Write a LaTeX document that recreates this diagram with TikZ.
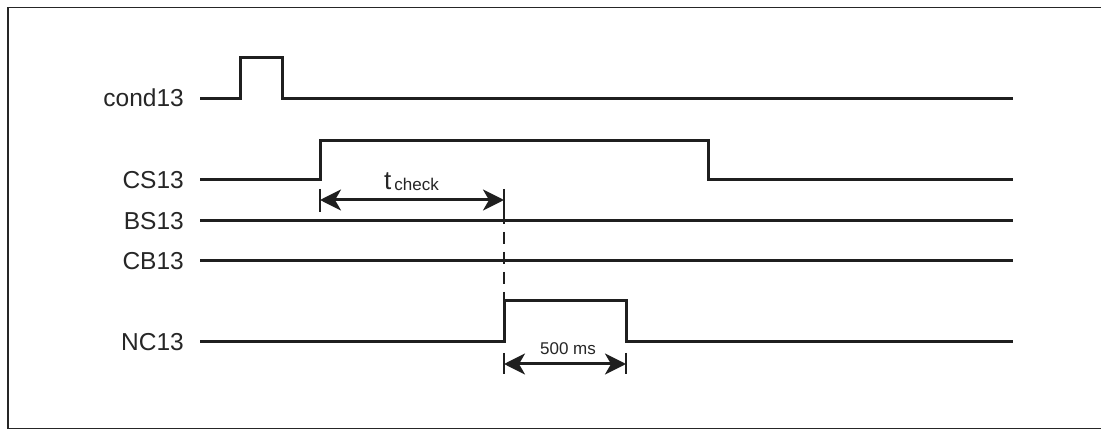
\documentclass[tikz,border=0pt]{standalone}
\usepackage{fontspec}
\setmainfont{Liberation Sans}
\usetikzlibrary{arrows.meta}
\begin{document}
\begin{tikzpicture}[x=1pt,y=-1pt,
  sig/.style={line width=3pt, line join=miter, draw=black!88},
  lbl/.style={anchor=base east, inner sep=0pt, font=\fontsize{24.5}{24}\selectfont, text=black!85},
  tickmark/.style={line width=2.4pt, draw=black!88},
  dimline/.style={line width=3pt, draw=black!88,
    {Stealth[length=21pt,width=21pt,inset=6pt]}-{Stealth[length=21pt,width=21pt,inset=6pt]}},
  dashv/.style={line width=2.4pt, draw=black!88, dash pattern=on 12pt off 8pt},
]
\useasboundingbox (0,0) rectangle (1101,430);
\clip (0,0) rectangle (1101,430);
\fill[white] (0,0) rectangle (1101,430);
\draw[line width=1.6pt, draw=black!85] (8,7.5) rectangle (1120,428.5);

% labels
\node[lbl] (lcond) at (184,107) {cond13};
\node[lbl] (lcs) at (184,188.5) {CS13};
\node[lbl] (lbs) at (184,229.5) {BS13};
\node[lbl] (lcb) at (184,269.5) {CB13};
\node[lbl] (lnc) at (184,350.5) {NC13};

% signals
\draw[sig] (200,99) -- (240,99) -- (240,58) -- (282,58) -- (282,99) -- (1013,99);
\draw[sig] (200,180) -- (320,180) -- (320,141) -- (708,141) -- (708,180) -- (1013,180);
\draw[sig] (200,221) -- (1013,221);
\draw[sig] (200,261) -- (1013,261);
\draw[sig] (200,342) -- (504,342) -- (504,301) -- (626,301) -- (626,342) -- (1013,342);

% t_check dimension
\coordinate (tc1) at (320,200);
\coordinate (tc2) at (504,200);
\draw[tickmark] (320,189) -- (320,212);
\draw[tickmark] (504,189) -- (504,212);
\draw[dimline] (tc1) -- (tc2);
\node[anchor=base west, inner sep=0pt, text=black!85] (tcheck) at (384,190)
  {\fontsize{26}{26}\selectfont t\hspace{3pt}\raisebox{-1pt}{\fontsize{17}{17}\selectfont check}};

% dashed alignment line
\coordinate (d1) at (504,212);
\coordinate (d2) at (504,301);
\draw[dashv] (d1) -- (d2);

% 500 ms dimension
\coordinate (m1) at (504,364);
\coordinate (m2) at (626,364);
\draw[tickmark] (504,353) -- (504,374);
\draw[tickmark] (626,353) -- (626,374);
\draw[dimline] (m1) -- (m2);
\node[anchor=base, inner sep=0pt, text=black!85, font=\fontsize{17}{17}\selectfont] (ms) at (568,355) {500 ms};
\end{tikzpicture}
\end{document}
